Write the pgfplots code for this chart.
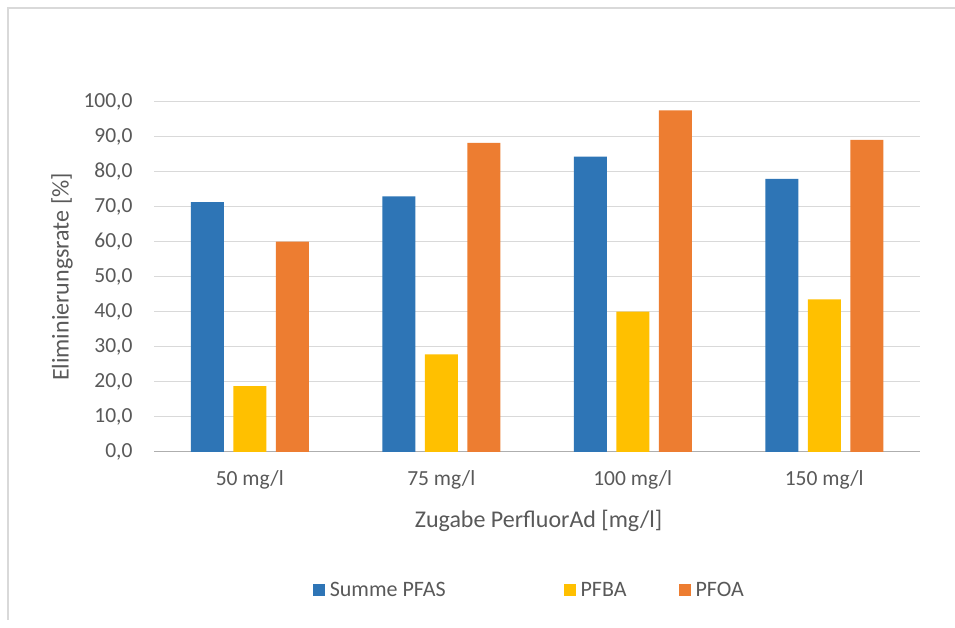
\documentclass[border=0pt]{standalone}
\usepackage{pgfplots}
\pgfplotsset{compat=1.18}
\usepackage{fontspec}
\setmainfont{Carlito}
\definecolor{cblue}{HTML}{2E75B6}
\definecolor{cyellow}{HTML}{FFC000}
\definecolor{corange}{HTML}{ED7D31}
\definecolor{ctext}{HTML}{595959}
\definecolor{cgrid}{HTML}{D9D9D9}
\begin{document}
\begin{tikzpicture}
\useasboundingbox (0,0) rectangle (955bp,628bp);
\fill[white] (0,0) rectangle (955bp,628bp);
\draw[color=black!15, line width=2bp] (8bp,8bp) -- (8bp,620bp) -- (970bp,620bp);
\begin{axis}[
  at={(154bp,176bp)}, anchor=south west,
  scale only axis, width=766bp, height=350bp,
  ybar=9.5bp, bar width=33bp,
  xmin=-0.5, xmax=3.5, ymin=0, ymax=100,
  xtick={0,1,2,3},
  xticklabels={50 mg/l, 75 mg/l, 100 mg/l, 150 mg/l},
  ytick={0,10,...,100},
  major tick length=0pt,
  axis x line*=bottom, axis y line*=left,
  y axis line style={draw=none},
  x axis line style={draw=cgrid!80!black, line width=1bp, -},
  ymajorgrids, grid style={draw=cgrid, line width=1bp},
  /pgf/number format/.cd, fixed, fixed zerofill, precision=1, use comma, assume math mode=true,
  /pgfplots/.cd,
  ticklabel style={font=\fontsize{21.5bp}{25bp}\selectfont, text=ctext},
  yticklabel style={xshift=-18bp},
  xticklabel style={yshift=-15bp},
  label style={font=\fontsize{24bp}{28bp}\selectfont, text=ctext},
  xlabel={Zugabe PerfluorAd [mg/l]},
  xlabel style={at={(axis description cs:0.502,-0.197)}, anchor=center},
  ylabel={Eliminierungsrate [\%]},
  ylabel style={at={(axis description cs:-0.120,0.5)}, anchor=center, rotate=0},
  legend style={at={(axis description cs:0.490,-0.394)}, anchor=center, draw=none,
     font=\fontsize{22bp}{26bp}\selectfont, text=ctext,
     legend columns=3,
     /tikz/column 1/.style={column sep=3bp},
     /tikz/column 2/.style={column sep=116bp},
     /tikz/column 3/.style={column sep=3bp},
     /tikz/column 4/.style={column sep=50bp},
     /tikz/column 5/.style={column sep=3bp}},
  legend image code/.code={\fill[#1] (0bp,-6bp) rectangle (12bp,6bp);},
  clip=false,
]
\addplot[fill=cblue, draw=none] coordinates {(0,71.4) (1,73.0) (2,84.4) (3,78.0)};
\addplot[fill=cyellow, draw=none] coordinates {(0,18.8) (1,27.9) (2,40.1) (3,43.6)};
\addplot[fill=corange, draw=none] coordinates {(0,60.1) (1,88.3) (2,97.6) (3,89.2)};
\legend{Summe PFAS, PFBA, PFOA}
\end{axis}
\end{tikzpicture}
\end{document}
